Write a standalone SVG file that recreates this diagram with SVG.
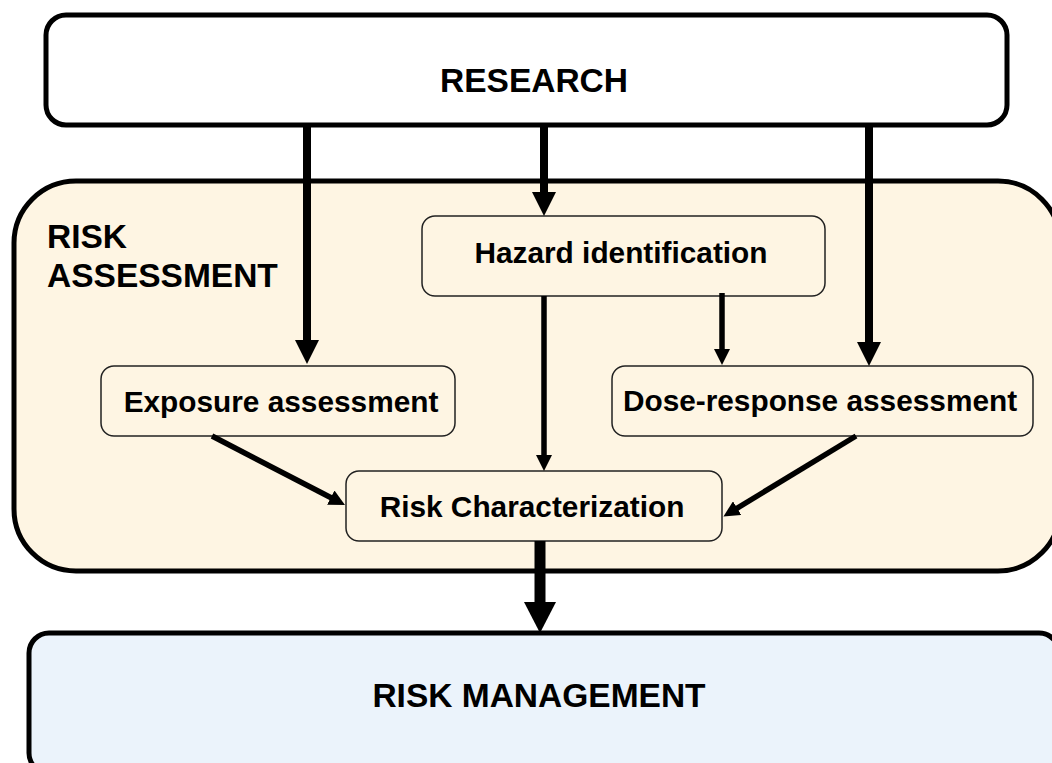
<svg xmlns="http://www.w3.org/2000/svg" width="1052" height="763" viewBox="0 0 1052 763">
<style>
.big{stroke:#000;stroke-width:5}
.node{fill:#FEF5E3;stroke:#222;stroke-width:1.5}
.t{font-family:"Liberation Sans",Arial,Helvetica,sans-serif;font-weight:bold;fill:#000}
.h{font-size:33.5px}
.n{font-size:29.8px}
.c{fill:none;stroke:#000}
</style>
<defs>
<marker id="mb" markerUnits="userSpaceOnUse" viewBox="0 0 24 24" markerWidth="24" markerHeight="24" refX="12" refY="12" orient="auto"><path d="M0,0 L24,12 L0,24 z" fill="#000"/></marker>
<marker id="ms" markerUnits="userSpaceOnUse" viewBox="0 0 16 16" markerWidth="16" markerHeight="16" refX="8" refY="8" orient="auto"><path d="M0,0 L16,8 L0,16 z" fill="#000"/></marker>
<marker id="mh" markerUnits="userSpaceOnUse" viewBox="0 0 31 32" markerWidth="31" markerHeight="32" refX="15" refY="16" orient="auto"><path d="M0,0 L31,16 L0,32 z" fill="#000"/></marker>
</defs>
<g id="research"><rect class="big" x="46" y="15" width="961" height="110" rx="20" fill="#fff"/><text class="t h" x="534" y="92" text-anchor="middle">RESEARCH</text></g>
<g id="risk-assessment"><rect class="big" x="14" y="181" width="1046" height="390" rx="62" fill="#FEF5E3"/><text class="t h" x="47" y="248">RISK</text><text class="t h" x="47" y="287">ASSESSMENT</text></g>
<g id="risk-management"><rect class="big" x="29" y="633" width="1030" height="140" rx="20" fill="#EBF3FB"/><text class="t h" x="539" y="707" text-anchor="middle">RISK MANAGEMENT</text></g>
<g id="hazard"><rect class="node" x="422" y="216" width="403" height="80" rx="13"/><text class="t n" x="621" y="263" text-anchor="middle">Hazard identification</text></g>
<g id="exposure"><rect class="node" x="101" y="366" width="354" height="70" rx="13"/><text class="t n" x="281" y="412" text-anchor="middle">Exposure assessment</text></g>
<g id="dose"><rect class="node" x="612" y="366" width="421" height="70" rx="13"/><text class="t n" x="820" y="411" text-anchor="middle">Dose-response assessment</text></g>
<g id="risk-char"><rect class="node" x="346" y="471" width="376" height="70" rx="13"/><text class="t n" x="532" y="517" text-anchor="middle">Risk Characterization</text></g>
<g id="connectors">
<path class="c" stroke-width="8" d="M307,125 V352" marker-end="url(#mb)"/>
<path class="c" stroke-width="8" d="M544,125 V204" marker-end="url(#mb)"/>
<path class="c" stroke-width="8" d="M869,125 V354" marker-end="url(#mb)"/>
<path class="c" stroke-width="5.5" d="M722,293 V357" marker-end="url(#ms)"/>
<path class="c" stroke-width="5.5" d="M544,296 V463" marker-end="url(#ms)"/>
<path class="c" stroke-width="5.5" d="M212,436 L337.9,501.3" marker-end="url(#ms)"/>
<path class="c" stroke-width="5.5" d="M856,436 L730.3,512.3" marker-end="url(#ms)"/>
<path class="c" stroke-width="11" d="M540,541 V617" marker-end="url(#mh)"/>
</g>
</svg>
